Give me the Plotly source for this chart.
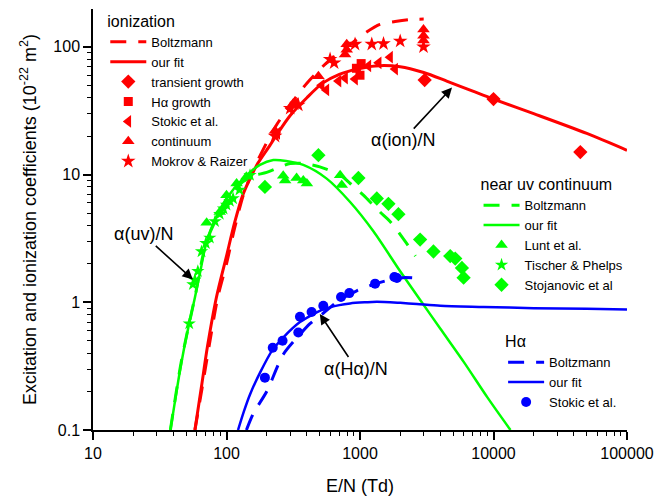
import plotly.graph_objects as go
import numpy as np

# ---------------- data ----------------
# ionization (red)
ion_boltz_x = [58, 66, 74, 86, 100, 115, 133, 150, 172, 212, 240, 300, 400, 600, 870, 1100, 1410, 1833, 2400, 3000]
ion_boltz_y = [0.1, 0.22, 0.45, 1.09, 2.0, 3.8, 6.8, 9.5, 13, 20, 25, 35, 52, 80, 107, 129, 150, 158, 164, 165]
ion_fit_x = [58, 65, 72, 84, 100, 115, 133, 150, 172, 212, 238, 300, 400, 525, 700, 950, 1300, 2000, 3000, 4460, 7000, 10000, 20000, 50000, 100000]
ion_fit_y = [0.1, 0.22, 0.45, 1.09, 2.3, 4.2, 7.0, 9.3, 12.3, 17, 20.5, 29, 40, 52, 61, 67, 71, 70, 63, 54, 45, 39, 30, 21, 15.5]
ion_transient_x = [3050, 10000, 44700]
ion_transient_y = [55, 39, 15]
ion_halpha_x = [940, 1000, 1020]
ion_halpha_y = [68, 60, 74]
ion_stokic_x = [240, 300, 330, 516, 560, 690, 773, 918, 1156, 1380, 1680, 1833]
ion_stokic_y = [21, 33, 36, 50, 46, 54, 57, 56, 71, 75, 83, 67]
ion_cont_x = [231, 316, 488, 773, 795, 795, 2990, 2990, 2990]
ion_cont_y = [22, 36, 59, 87, 105, 95, 137, 122, 112]
ion_mokrov_x = [231, 300, 345, 597, 640, 918, 1225, 1500, 2000, 2990]
ion_mokrov_y = [20, 33, 35, 80, 75, 105, 105, 106, 111, 100]

# near uv continuum (green)
uv_boltz_x = [38, 46, 58, 71, 100, 133, 160, 200, 300, 376, 500, 710, 870, 1060, 1410, 1680, 2180, 2600]
uv_boltz_y = [0.1, 0.35, 1.1, 3.0, 6.3, 8.8, 9.8, 10.4, 12.2, 12.2, 11.5, 9.9, 8.3, 6.9, 5.1, 4.3, 3.0, 2.3]
uv_fit_x = [38, 40, 44, 48, 52, 55, 58, 64, 71, 85, 100, 133, 178, 224, 280, 376, 563, 843, 1260, 2000, 2740, 4000, 6000, 9000, 13400]
uv_fit_y = [0.1, 0.14, 0.26, 0.43, 0.65, 0.85, 1.09, 1.8, 3.0, 4.8, 6.5, 9.3, 11.9, 13.0, 12.8, 11.9, 9.3, 6.1, 3.6, 1.75, 1.09, 0.62, 0.34, 0.18, 0.1]
uv_lunt_x = [71, 89, 100, 119, 141, 266, 275, 335, 376, 400, 710, 730]
uv_lunt_y = [4.2, 5.1, 6.9, 8.5, 9.6, 9.8, 9.0, 9.4, 9.0, 8.5, 9.9, 8.3]
uv_tischer_x = [52.6, 56, 58, 61, 65, 70, 75, 82, 89, 95, 100, 106, 112, 125, 150]
uv_tischer_y = [0.68, 1.38, 1.5, 1.75, 2.5, 2.9, 3.2, 4.3, 4.9, 5.4, 5.8, 6.2, 6.5, 7.6, 9.9]
uv_stoj_x = [194, 488, 973, 1336, 1633, 1940, 2820, 3550, 4740, 5170, 5800, 5970]
uv_stoj_y = [8.0, 14.2, 9.4, 6.5, 5.9, 4.9, 3.1, 2.5, 2.3, 2.2, 1.86, 1.56]

# H-alpha (blue)
ha_boltz_x = [141, 159, 200, 266, 355, 422, 530, 710, 946, 1260, 1680, 2100, 2800]
ha_boltz_y = [0.1, 0.135, 0.2, 0.39, 0.56, 0.68, 0.82, 1.05, 1.23, 1.38, 1.5, 1.56, 1.54]
ha_fit_x = [122, 135, 150, 178, 220, 266, 355, 450, 531, 700, 843, 1100, 1336, 2000, 2670, 4000, 8430, 20000, 50000, 100000]
ha_fit_y = [0.1, 0.14, 0.19, 0.28, 0.42, 0.53, 0.7, 0.81, 0.88, 0.95, 0.98, 1.0, 1.01, 0.99, 0.97, 0.94, 0.92, 0.9, 0.89, 0.88]
ha_stokic_x = [194, 222, 263, 345, 355, 434, 531, 721, 832, 1297, 1810, 1890]
ha_stokic_y = [0.257, 0.44, 0.5, 0.58, 0.77, 0.84, 0.94, 1.1, 1.18, 1.4, 1.58, 1.55]

# axes
x_tickvals = [10, 100, 1000, 10000, 100000]
x_ticktext = ["10", "100", "1000", "10000", "100000"]
y_tickvals = [0.1, 1, 10, 100]
y_ticktext = ["0.1", "1", "10", "100"]
x_range = [10, 100000]
y_range = [0.1, 198]

# annotations: label text, label centre (x, y), arrow tip (x, y)
labels = ["α(ion)/N", "α(uv)/N", "α(Hα)/N"]
label_x = [2100, 23.7, 935]
label_y = [18.6, 3.4, 0.303]
tip_x = [4890, 56, 500]
tip_y = [48, 1.51, 0.81]

# ---------------- styling ----------------
RED = "#FF0000"
GREEN = "#00FF00"
BLUE = "#0000FF"
FONT = "Arial, Liberation Sans, sans-serif"
DASH = "16px,12px"

fig = go.Figure()

def line(x, y, color, dash, name, legend, width):
    fig.add_trace(go.Scatter(x=x, y=y, mode="lines", name=name, legend=legend,
                             line=dict(color=color, width=width, dash=dash, shape="spline", smoothing=0.8)))

def pts(x, y, color, symbol, name, legend, size):
    fig.add_trace(go.Scatter(x=x, y=y, mode="markers", name=name, legend=legend,
                             marker=dict(color=color, symbol=symbol, size=size, line=dict(width=0))))

# red
line(ion_boltz_x, ion_boltz_y, RED, DASH, "Boltzmann", "legend", 3)
line(ion_fit_x, ion_fit_y, RED, "solid", "our fit", "legend", 3)
pts(ion_transient_x, ion_transient_y, RED, "diamond", "transient growth", "legend", 11)
pts(ion_halpha_x, ion_halpha_y, RED, "square", "Hα growth", "legend", 9)
pts(ion_stokic_x, ion_stokic_y, RED, "triangle-left", "Stokic et al.", "legend", 11)
pts(ion_cont_x, ion_cont_y, RED, "triangle-up", "continuum", "legend", 11)
pts(ion_mokrov_x, ion_mokrov_y, RED, "star", "Mokrov & Raizer", "legend", 11)

# green
line(uv_boltz_x, uv_boltz_y, GREEN, DASH, "Boltzmann", "legend2", 3)
line(uv_fit_x, uv_fit_y, GREEN, "solid", "our fit", "legend2", 2.5)
pts(uv_lunt_x, uv_lunt_y, GREEN, "triangle-up", "Lunt et al.", "legend2", 11)
pts(uv_tischer_x, uv_tischer_y, GREEN, "star", "Tischer & Phelps", "legend2", 10)
pts(uv_stoj_x, uv_stoj_y, GREEN, "diamond", "Stojanovic et al", "legend2", 11)

# blue
line(ha_boltz_x, ha_boltz_y, BLUE, DASH, "Boltzmann", "legend3", 3)
line(ha_fit_x, ha_fit_y, BLUE, "solid", "our fit", "legend3", 2.5)
pts(ha_stokic_x, ha_stokic_y, BLUE, "circle", "Stokic et al.", "legend3", 10)

for t, lx, ly, tx, ty in zip(labels, label_x, label_y, tip_x, tip_y):
    fig.add_annotation(x=np.log10(tx), y=np.log10(ty), ax=np.log10(lx), ay=np.log10(ly),
                       xref="x", yref="y", axref="x", ayref="y", text=t, showarrow=True,
                       arrowhead=2, arrowsize=1.3, arrowwidth=1.6, arrowcolor="black", standoff=0,
                       font=dict(family=FONT, size=18, color="black"))

legend_common = dict(bgcolor="rgba(0,0,0,0)", borderwidth=0, font=dict(family=FONT, size=13, color="black"),
                     xanchor="left", yanchor="top", itemwidth=36, tracegroupgap=0)

axis_common = dict(type="log", showline=True, linecolor="black", linewidth=1.5, mirror=False,
                   ticks="outside", ticklen=8, tickwidth=1.5, tickcolor="black",
                   showgrid=False, zeroline=False, automargin=False,
                   tickfont=dict(family=FONT, size=16, color="black"),
                   minor=dict(ticks="outside", ticklen=4, tickwidth=1.2, tickcolor="black", dtick="D1", showgrid=False))

fig.update_layout(
    width=669, height=498,
    margin=dict(l=93, r=42, t=6, b=68),
    paper_bgcolor="white", plot_bgcolor="white",
    font=dict(family=FONT, color="black"),
    showlegend=True,
    xaxis=dict(axis_common, range=[np.log10(v) for v in x_range], tickmode="array",
               tickvals=x_tickvals, ticktext=x_ticktext,
               title=dict(text="E/N (Td)", font=dict(family=FONT, size=18), standoff=18)),
    yaxis=dict(axis_common, range=[np.log10(v) for v in y_range], tickmode="array",
               tickvals=y_tickvals, ticktext=y_ticktext,
               title=dict(text="Excitation and ionization coefficients (10<sup>-22</sup> m<sup>2</sup>)",
                          font=dict(family=FONT, size=18), standoff=12)),
    legend=dict(legend_common, x=0.023, y=1.007, title=dict(text="ionization")),
    legend2=dict(legend_common, x=0.722, y=0.619, title=dict(text="near uv continuum")),
    legend3=dict(legend_common, x=0.768, y=0.246, title=dict(text="Hα")),
)

fig.write_html("out.html", config={"displayModeBar": False},
               post_script="document.body.style.margin='0';")
